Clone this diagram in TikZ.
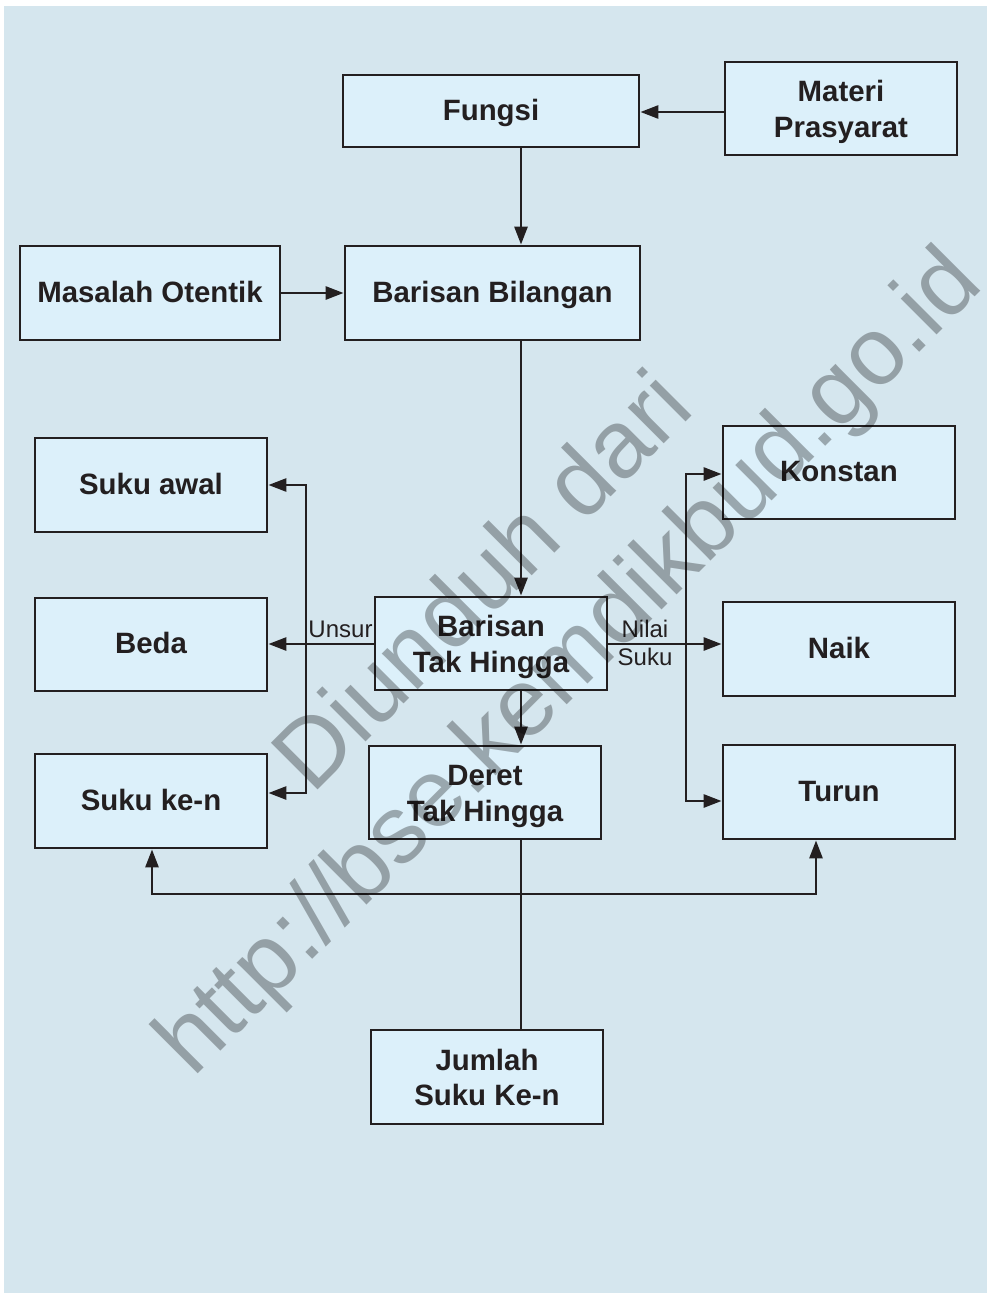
\documentclass[tikz,border=0pt]{standalone}
\usepackage{fontspec}
\setmainfont{Liberation Sans}
\usetikzlibrary{arrows.meta}
\definecolor{panel}{RGB}{213,230,238}
\definecolor{boxfill}{RGB}{220,240,250}
\definecolor{ink}{RGB}{35,31,32}
\begin{document}
\begin{tikzpicture}[x=1pt,y=-1pt,
  box/.style={draw=ink, line width=2.8pt, fill=boxfill, inner sep=0pt, align=center,
    font=\fontsize{29.4}{35.5}\selectfont\bfseries, text=ink, text height=18pt, text depth=0pt},
  box2/.style={box, text height=57pt, text depth=0pt},
  conn/.style={draw=ink, line width=2.7pt},
  arr/.style={conn, -{Triangle[length=18pt,width=13pt]}},
  lbl/.style={font=\fontsize{24}{29}\selectfont, text=ink, inner sep=0pt},
  wm/.style={font=\fontsize{96}{96}\selectfont, text=black, text opacity=0.3,
    inner sep=0pt, rotate=45, anchor=base west}]
\fill[white] (0,0) rectangle (987,1293);
\fill[panel] (4,6) rectangle (987,1293);
\useasboundingbox (0,0) rectangle (987,1293);

% boxes
\node[box, minimum width=296pt, minimum height=72pt] (fungsi) at (491,111) {Fungsi};
\node[box2, minimum width=232pt, minimum height=93pt] (materi) at (841,108.5) {Materi\\Prasyarat};
\node[box, minimum width=260pt, minimum height=94pt] (masalah) at (150,293) {Masalah Otentik};
\node[box, minimum width=295pt, minimum height=94pt] (bilangan) at (492.5,293) {Barisan Bilangan};
\node[box, minimum width=232pt, minimum height=94pt] (sukuawal) at (151,485) {Suku awal};
\node[box, minimum width=232pt, minimum height=93pt] (beda) at (151,644.5) {Beda};
\node[box, minimum width=232pt, minimum height=94pt] (sukuken) at (151,801) {Suku ke-n};
\node[box2, minimum width=232pt, minimum height=93pt] (bth) at (491,643.5) {Barisan\\Tak Hingga};
\node[box2, minimum width=232pt, minimum height=93pt] (deret) at (485,792.5) {Deret\\Tak Hingga};
\node[box, minimum width=232pt, minimum height=93pt] (konstan) at (839,472.5) {Konstan};
\node[box, minimum width=232pt, minimum height=94pt] (naik) at (839,649) {Naik};
\node[box, minimum width=232pt, minimum height=94pt] (turun) at (839,792) {Turun};
\node[box2, minimum width=232pt, minimum height=94pt] (jumlah) at (487,1077) {Jumlah\\Suku Ke-n};

% helper coordinates
\coordinate (yA) at (0,112);
\coordinate (xC) at (521,0);
\coordinate (yU) at (0,644);
\coordinate (xL) at (306,0);
\coordinate (xR) at (686,0);
\coordinate (yK2) at (0,793);
\coordinate (yK3) at (0,474);
\coordinate (yK4) at (0,801);
\coordinate (yB) at (0,894);
\coordinate (xL2) at (152,0);
\coordinate (xR2) at (816,0);

% connectors
\draw[arr] (materi.west |- yA) -- (fungsi.east |- yA);
\draw[arr] (fungsi.south -| xC) -- (bilangan.north -| xC);
\draw[arr] (masalah.east) -- (bilangan.west);
\draw[arr] (bilangan.south -| xC) -- (bth.north -| xC);
\draw[arr] (bth.south -| xC) -- (deret.north -| xC);
\draw[conn] (deret.south -| xC) -- (jumlah.north -| xC);
\draw[arr] (xC |- yB) -| (sukuken.south -| xL2);
\draw[arr] (xC |- yB) -| (turun.south -| xR2);

\draw[arr] (bth.west |- yU) -- (beda.east |- yU);
\draw[arr] (xL |- yU) |- (sukuawal.east);
\draw[arr] (xL |- yU) |- (sukuken.east |- yK2);

\draw[arr] (bth.east |- yU) -- (naik.west |- yU);
\draw[arr] (xR |- yU) |- (konstan.west |- yK3);
\draw[arr] (xR |- yU) |- (turun.west |- yK4);

% labels
\node[lbl, anchor=base] (unsur) at (340.5,637) {Unsur};
\node[lbl, anchor=base] (nilai) at (645,637) {Nilai};
\node[lbl, anchor=base] (suku) at (645,665) {Suku};

% watermark
\node[wm] (wm1) at (312,796) {Diunduh dari};
\node[wm] (wm2) at (193,1079) {http://bse.kemdikbud.go.id};
\end{tikzpicture}
\end{document}
